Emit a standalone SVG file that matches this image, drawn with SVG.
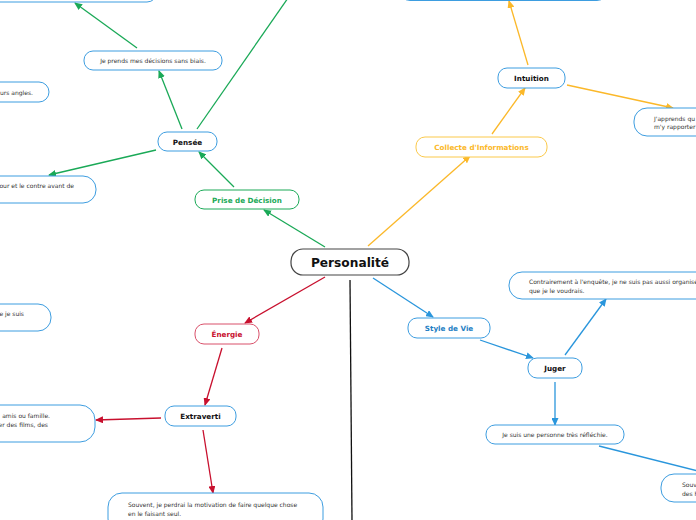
<svg xmlns="http://www.w3.org/2000/svg" width="696" height="520" viewBox="0 0 696 520">
<defs>
<style>
.lbl{font-family:"DejaVu Sans",Verdana,sans-serif;font-weight:bold;font-size:7.2px;text-anchor:middle;fill:#111}
.leaf{font-family:"DejaVu Sans",Verdana,sans-serif;font-size:6px;fill:#333}
.box{fill:#fff;stroke:#3d9de0;stroke-width:1}
.g{stroke:#1aa957;stroke-width:1.3;fill:none}
.r{stroke:#c8102e;stroke-width:1.3;fill:none}
.y{stroke:#fbb829;stroke-width:1.3;fill:none}
.b{stroke:#2a96dc;stroke-width:1.3;fill:none}
</style>
<marker id="ag" markerUnits="userSpaceOnUse" markerWidth="8" markerHeight="7" refX="7" refY="3.5" orient="auto"><path d="M0,0 L8,3.5 L0,7 z" fill="#1aa957"/></marker>
<marker id="ar" markerUnits="userSpaceOnUse" markerWidth="8" markerHeight="7" refX="7" refY="3.5" orient="auto"><path d="M0,0 L8,3.5 L0,7 z" fill="#c8102e"/></marker>
<marker id="ay" markerUnits="userSpaceOnUse" markerWidth="8" markerHeight="7" refX="7" refY="3.5" orient="auto"><path d="M0,0 L8,3.5 L0,7 z" fill="#fbb829"/></marker>
<marker id="ab" markerUnits="userSpaceOnUse" markerWidth="8" markerHeight="7" refX="7" refY="3.5" orient="auto"><path d="M0,0 L8,3.5 L0,7 z" fill="#2a96dc"/></marker>
</defs>
<rect width="696" height="520" fill="#fff"/>
<g id="connectors">
<line class="g" x1="325" y1="247" x2="264" y2="210" marker-end="url(#ag)"/>
<line class="g" x1="234" y1="187" x2="199" y2="152" marker-end="url(#ag)"/>
<line class="g" x1="182" y1="129" x2="159" y2="71" marker-end="url(#ag)"/>
<line class="g" x1="197" y1="129" x2="288" y2="-2"/>
<line class="g" x1="137" y1="48" x2="75" y2="3" marker-end="url(#ag)"/>
<line class="g" x1="156" y1="150" x2="49" y2="175" marker-end="url(#ag)"/>
<line class="r" x1="325" y1="277" x2="245" y2="323" marker-end="url(#ar)"/>
<line class="r" x1="222" y1="348" x2="205" y2="405" marker-end="url(#ar)"/>
<line class="r" x1="161" y1="418" x2="96" y2="420" marker-end="url(#ar)"/>
<line class="r" x1="203" y1="430" x2="213" y2="493" marker-end="url(#ar)"/>
<line x1="350" y1="280" x2="352" y2="520" stroke="#111" stroke-width="1.3"/>
<line class="y" x1="368" y1="246" x2="470" y2="156" marker-end="url(#ay)"/>
<line class="y" x1="492" y1="134" x2="525" y2="88" marker-end="url(#ay)"/>
<line class="y" x1="528" y1="65" x2="509" y2="1" marker-end="url(#ay)"/>
<line class="y" x1="567" y1="85" x2="673" y2="108" marker-end="url(#ay)"/>
<line class="b" x1="373" y1="278" x2="433" y2="317" marker-end="url(#ab)"/>
<line class="b" x1="480" y1="340" x2="533" y2="358" marker-end="url(#ab)"/>
<line class="b" x1="565" y1="355" x2="606" y2="299" marker-end="url(#ab)"/>
<line class="b" x1="555" y1="382" x2="555" y2="425" marker-end="url(#ab)"/>
<line class="b" x1="599" y1="446" x2="698" y2="471"/>
</g>
<g id="personalite">
<rect x="291" y="249" width="118" height="26" rx="12" fill="#fff" stroke="#444" stroke-width="1.2"/>
<text x="350" y="266.5" font-family="DejaVu Sans,Verdana,sans-serif" font-weight="bold" font-size="12.2" text-anchor="middle" fill="#111">Personalité</text>
</g>
<g id="prise">
<rect x="195" y="190" width="104" height="19" rx="9" fill="#fff" stroke="#1aa957" stroke-width="1"/>
<text class="lbl" x="247" y="202.5" style="fill:#1aa957">Prise de Décision</text>
</g>
<g id="pensee">
<rect class="box" x="158" y="132" width="59" height="19" rx="9"/>
<text class="lbl" x="187.5" y="144.5">Pensée</text>
</g>
<g id="sansbiais">
<rect class="box" x="84" y="51" width="138" height="19" rx="9"/>
<text class="leaf" x="153" y="63" text-anchor="middle">Je prends mes décisions sans biais.</text>
</g>
<g id="topleft">
<rect class="box" x="-60" y="-20" width="217" height="22" rx="10"/>
</g>
<g id="angles">
<rect class="box" x="-60" y="82" width="109" height="20" rx="10"/>
<text class="leaf" x="33" y="94.5" text-anchor="end">urs angles.</text>
</g>
<g id="contre">
<rect class="box" x="-60" y="176" width="156" height="27" rx="13"/>
<text class="leaf" x="74" y="187.5" text-anchor="end">our et le contre avant de</text>
</g>
<g id="jesuis">
<rect class="box" x="-60" y="304" width="111" height="27" rx="13"/>
<text class="leaf" x="24" y="315.5" text-anchor="end">e je suis</text>
</g>
<g id="energie">
<rect x="195" y="324" width="64" height="20" rx="9" fill="#fff" stroke="#d9506a" stroke-width="1"/>
<text class="lbl" x="227" y="336.5" style="fill:#c8102e">Énergie</text>
</g>
<g id="extraverti">
<rect class="box" x="165" y="406" width="71" height="20" rx="9"/>
<text class="lbl" x="200.5" y="418.5">Extraverti</text>
</g>
<g id="amis">
<rect class="box" x="-60" y="405" width="155" height="37" rx="15"/>
<text class="leaf" x="50" y="417.5" text-anchor="end">amis ou famille.</text>
<text class="leaf" x="48" y="426.5" text-anchor="end">er des films, des</text>
</g>
<g id="souvent">
<rect class="box" x="108" y="493" width="215" height="40" rx="14"/>
<text class="leaf" x="128" y="507">Souvent, je perdrai la motivation de faire quelque chose</text>
<text class="leaf" x="128" y="515.5">en le faisant seul.</text>
</g>
<g id="collecte">
<rect x="416" y="137" width="131" height="20" rx="9" fill="#fff" stroke="#fbc94a" stroke-width="1"/>
<text class="lbl" x="481.5" y="149.5" style="fill:#fbb829">Collecte d'Informations</text>
</g>
<g id="intuition">
<rect class="box" x="498" y="68" width="67" height="20" rx="9"/>
<text class="lbl" x="531.5" y="80.5">Intuition</text>
</g>
<g id="topright">
<rect class="box" x="400" y="-20" width="207" height="20.5" rx="10"/>
</g>
<g id="apprends">
<rect class="box" x="634" y="108" width="100" height="28" rx="13"/>
<text class="leaf" x="654" y="120.5">J'apprends qu</text>
<text class="leaf" x="654" y="129">m'y rapporter</text>
</g>
<g id="style">
<rect class="box" x="408" y="318" width="82" height="20" rx="9"/>
<text class="lbl" x="449" y="330.5" style="fill:#1f7fc4">Style de Vie</text>
</g>
<g id="juger">
<rect class="box" x="528" y="358" width="54" height="20" rx="9"/>
<text class="lbl" x="555" y="370.5">Juger</text>
</g>
<g id="contrairement">
<rect class="box" x="509" y="272" width="220" height="27" rx="13"/>
<text class="leaf" x="529" y="284">Contrairement à l'enquête, je ne suis pas aussi organisé</text>
<text class="leaf" x="529" y="293">que je le voudrais.</text>
</g>
<g id="reflechie">
<rect class="box" x="486" y="425" width="138" height="19" rx="9"/>
<text class="leaf" x="555" y="437" text-anchor="middle">Je suis une personne très réfléchie.</text>
</g>
<g id="souvright">
<rect class="box" x="661" y="474" width="100" height="28" rx="13"/>
<text class="leaf" x="682" y="487">Souv</text>
<text class="leaf" x="682" y="496">des h</text>
</g>
</svg>
